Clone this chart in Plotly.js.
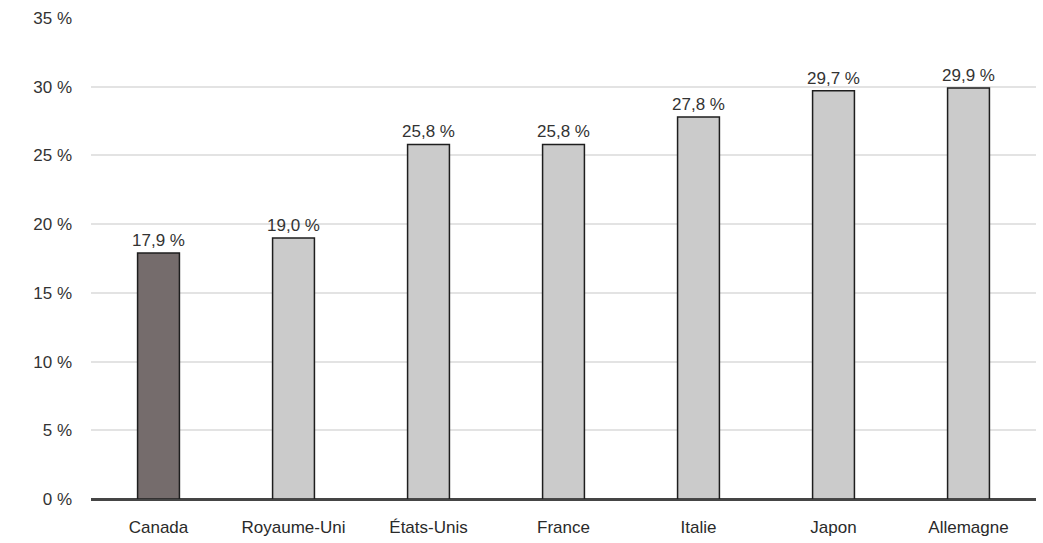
<!DOCTYPE html>
<html><head><meta charset="utf-8">
<script src="https://cdn.plot.ly/plotly-3.0.1.min.js"></script>
<style>html,body{margin:0;padding:0;background:#fff}#chart{width:1043px;height:543px}</style>
</head><body><div id="chart"></div>
<script>
const categories = ["Canada", "Royaume-Uni", "États-Unis", "France", "Italie", "Japon", "Allemagne"];
const values = [17.9, 19.0, 25.8, 25.8, 27.8, 29.7, 29.9];
const valueLabels = ["17,9 %", "19,0 %", "25,8 %", "25,8 %", "27,8 %", "29,7 %", "29,9 %"];
const yTickVals = [0, 5, 10, 15, 20, 25, 30, 35];
const yTickText = ["0 %", "5 %", "10 %", "15 %", "20 %", "25 %", "30 %", "35 %"];
const barColors = ["#756c6c", "#cbcbcb", "#cbcbcb", "#cbcbcb", "#cbcbcb", "#cbcbcb", "#cbcbcb"];

const fontFam = '"Liberation Sans Narrow", "Arial Narrow", "Liberation Sans", Arial, sans-serif';

const trace = {
  type: 'bar',
  x: categories,
  y: values,
  text: valueLabels,
  textposition: 'outside',
  texttemplate: '%{text}',
  constraintext: 'none',
  cliponaxis: false,
  textfont: {family: fontFam, size: 17, color: '#333333'},
  marker: {color: barColors, line: {color: '#1e1e1e', width: 1.5}},
  hoverinfo: 'none'
};

const layout = {
  width: 1043, height: 543,
  margin: {l: 91, r: 7, t: 18, b: 44},
  paper_bgcolor: '#ffffff', plot_bgcolor: '#ffffff',
  bargap: 0.69,
  showlegend: false,
  xaxis: {
    type: 'category',
    showgrid: false, zeroline: false, showline: false,
    ticks: '', tickfont: {family: fontFam, size: 17, color: '#2a2a2a'},
    ticklabelstandoff: 16
  },
  yaxis: {
    range: [0, 35], tickvals: yTickVals, ticktext: yTickText,
    showgrid: true, gridcolor: '#e3e3e3', gridwidth: 2,
    zeroline: true, zerolinecolor: '#454545', zerolinewidth: 3,
    showline: false, ticks: '',
    tickfont: {family: fontFam, size: 17, color: '#333333'},
    ticklabelstandoff: 18
  }
};

Plotly.newPlot('chart', [trace], layout, {staticPlot: true, displayModeBar: false});
</script></body></html>
